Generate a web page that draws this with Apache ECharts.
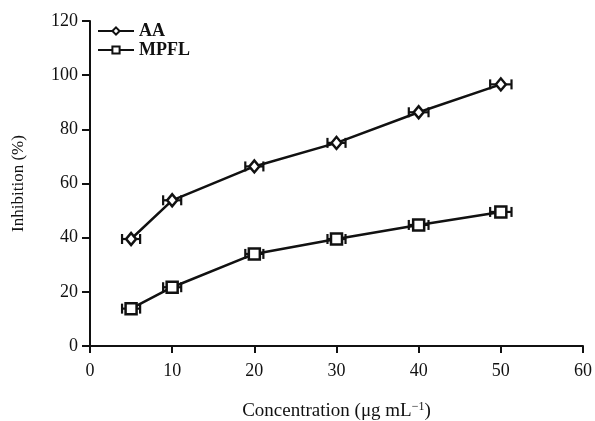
<!DOCTYPE html>
<html>
<head>
<meta charset="utf-8">
<script src="https://cdn.jsdelivr.net/npm/echarts@6/dist/echarts.min.js"></script>
<style>
  html, body { margin: 0; padding: 0; background: #fff; }
  #chart { width: 595px; height: 421px; }
</style>
</head>
<body>
<div id="chart"></div>
<script>
var concentrations = [5, 10, 20, 30, 40, 50];
var aaValues = [39.5, 53.8, 66.3, 75, 86.3, 96.6];
var mpflValues = [13.8, 21.7, 34, 39.5, 44.7, 49.5];
var xError = [1.1, 1.1, 1.1, 1.1, 1.2, 1.3];

var font = 'Liberation Serif';

function pairs(ys) {
  return concentrations.map(function (x, i) { return [x, ys[i], xError[i]]; });
}

// horizontal error bars with caps
function renderErr(params, api) {
  var x = api.value(0), y = api.value(1), e = api.value(2);
  var lo = api.coord([x - e, y]);
  var hi = api.coord([x + e, y]);
  var cap = 5;
  var st = { stroke: '#111', lineWidth: 2.2 };
  return {
    type: 'group',
    children: [
      { type: 'line', shape: { x1: lo[0], y1: lo[1], x2: hi[0], y2: hi[1] }, style: st },
      { type: 'line', shape: { x1: lo[0], y1: lo[1] - cap, x2: lo[0], y2: lo[1] + cap }, style: st },
      { type: 'line', shape: { x1: hi[0], y1: hi[1] - cap, x2: hi[0], y2: hi[1] + cap }, style: st }
    ]
  };
}

var chart = echarts.init(document.getElementById('chart'));

chart.setOption({
  animation: false,
  textStyle: { fontFamily: font },
  grid: { left: 90, right: 12, top: 21, bottom: 75, containLabel: false, outerBoundsMode: 'none' },
  legend: {
    data: ['AA', 'MPFL'],
    orient: 'vertical',
    left: 92,
    top: 17,
    itemWidth: 36,
    itemHeight: 9,
    itemGap: 1,
    textStyle: { fontFamily: font, fontSize: 18, fontWeight: 'bold', color: '#111' }
  },
  xAxis: {
    type: 'value',
    min: 0, max: 60, interval: 10,
    name: 'Concentration (μg mL{sup|−1})',
    nameLocation: 'middle',
    nameGap: 55,
    nameTextStyle: {
      fontFamily: font, fontSize: 19, color: '#111',
      rich: { sup: { fontFamily: font, fontSize: 12, verticalAlign: 'top', padding: [0, 0, 9, 0], color: '#111' } }
    },
    axisLine: { show: true, onZero: false, lineStyle: { color: '#111', width: 2 } },
    axisTick: { show: true, length: 7, lineStyle: { color: '#111', width: 2 } },
    axisLabel: { fontFamily: font, fontSize: 18, color: '#111', margin: 16 },
    splitLine: { show: false }
  },
  yAxis: {
    type: 'value',
    min: 0, max: 120, interval: 20,
    name: 'Inhibition (%)',
    nameLocation: 'middle',
    nameGap: 63,
    nameTextStyle: { fontFamily: font, fontSize: 17, color: '#111' },
    axisLine: { show: true, lineStyle: { color: '#111', width: 2 } },
    axisTick: { show: true, length: 8, lineStyle: { color: '#111', width: 2 } },
    axisLabel: { fontFamily: font, fontSize: 18, color: '#111', margin: 12 },
    splitLine: { show: false }
  },
  series: [
    {
      name: 'AA-err', type: 'custom', renderItem: renderErr, data: pairs(aaValues), z: 1, silent: true
    },
    {
      name: 'MPFL-err', type: 'custom', renderItem: renderErr, data: pairs(mpflValues), z: 1, silent: true
    },
    {
      name: 'AA', type: 'line', data: pairs(aaValues),
      symbol: 'diamond', symbolSize: [10, 12],
      lineStyle: { color: '#111', width: 2.5 },
      itemStyle: { color: '#fff', borderColor: '#111', borderWidth: 2.5 },
      z: 3
    },
    {
      name: 'MPFL', type: 'line', data: pairs(mpflValues),
      symbol: 'rect', symbolSize: 11,
      lineStyle: { color: '#111', width: 2.5 },
      itemStyle: { color: '#fff', borderColor: '#111', borderWidth: 2.5 },
      z: 3
    }
  ]
});
</script>
</body>
</html>
